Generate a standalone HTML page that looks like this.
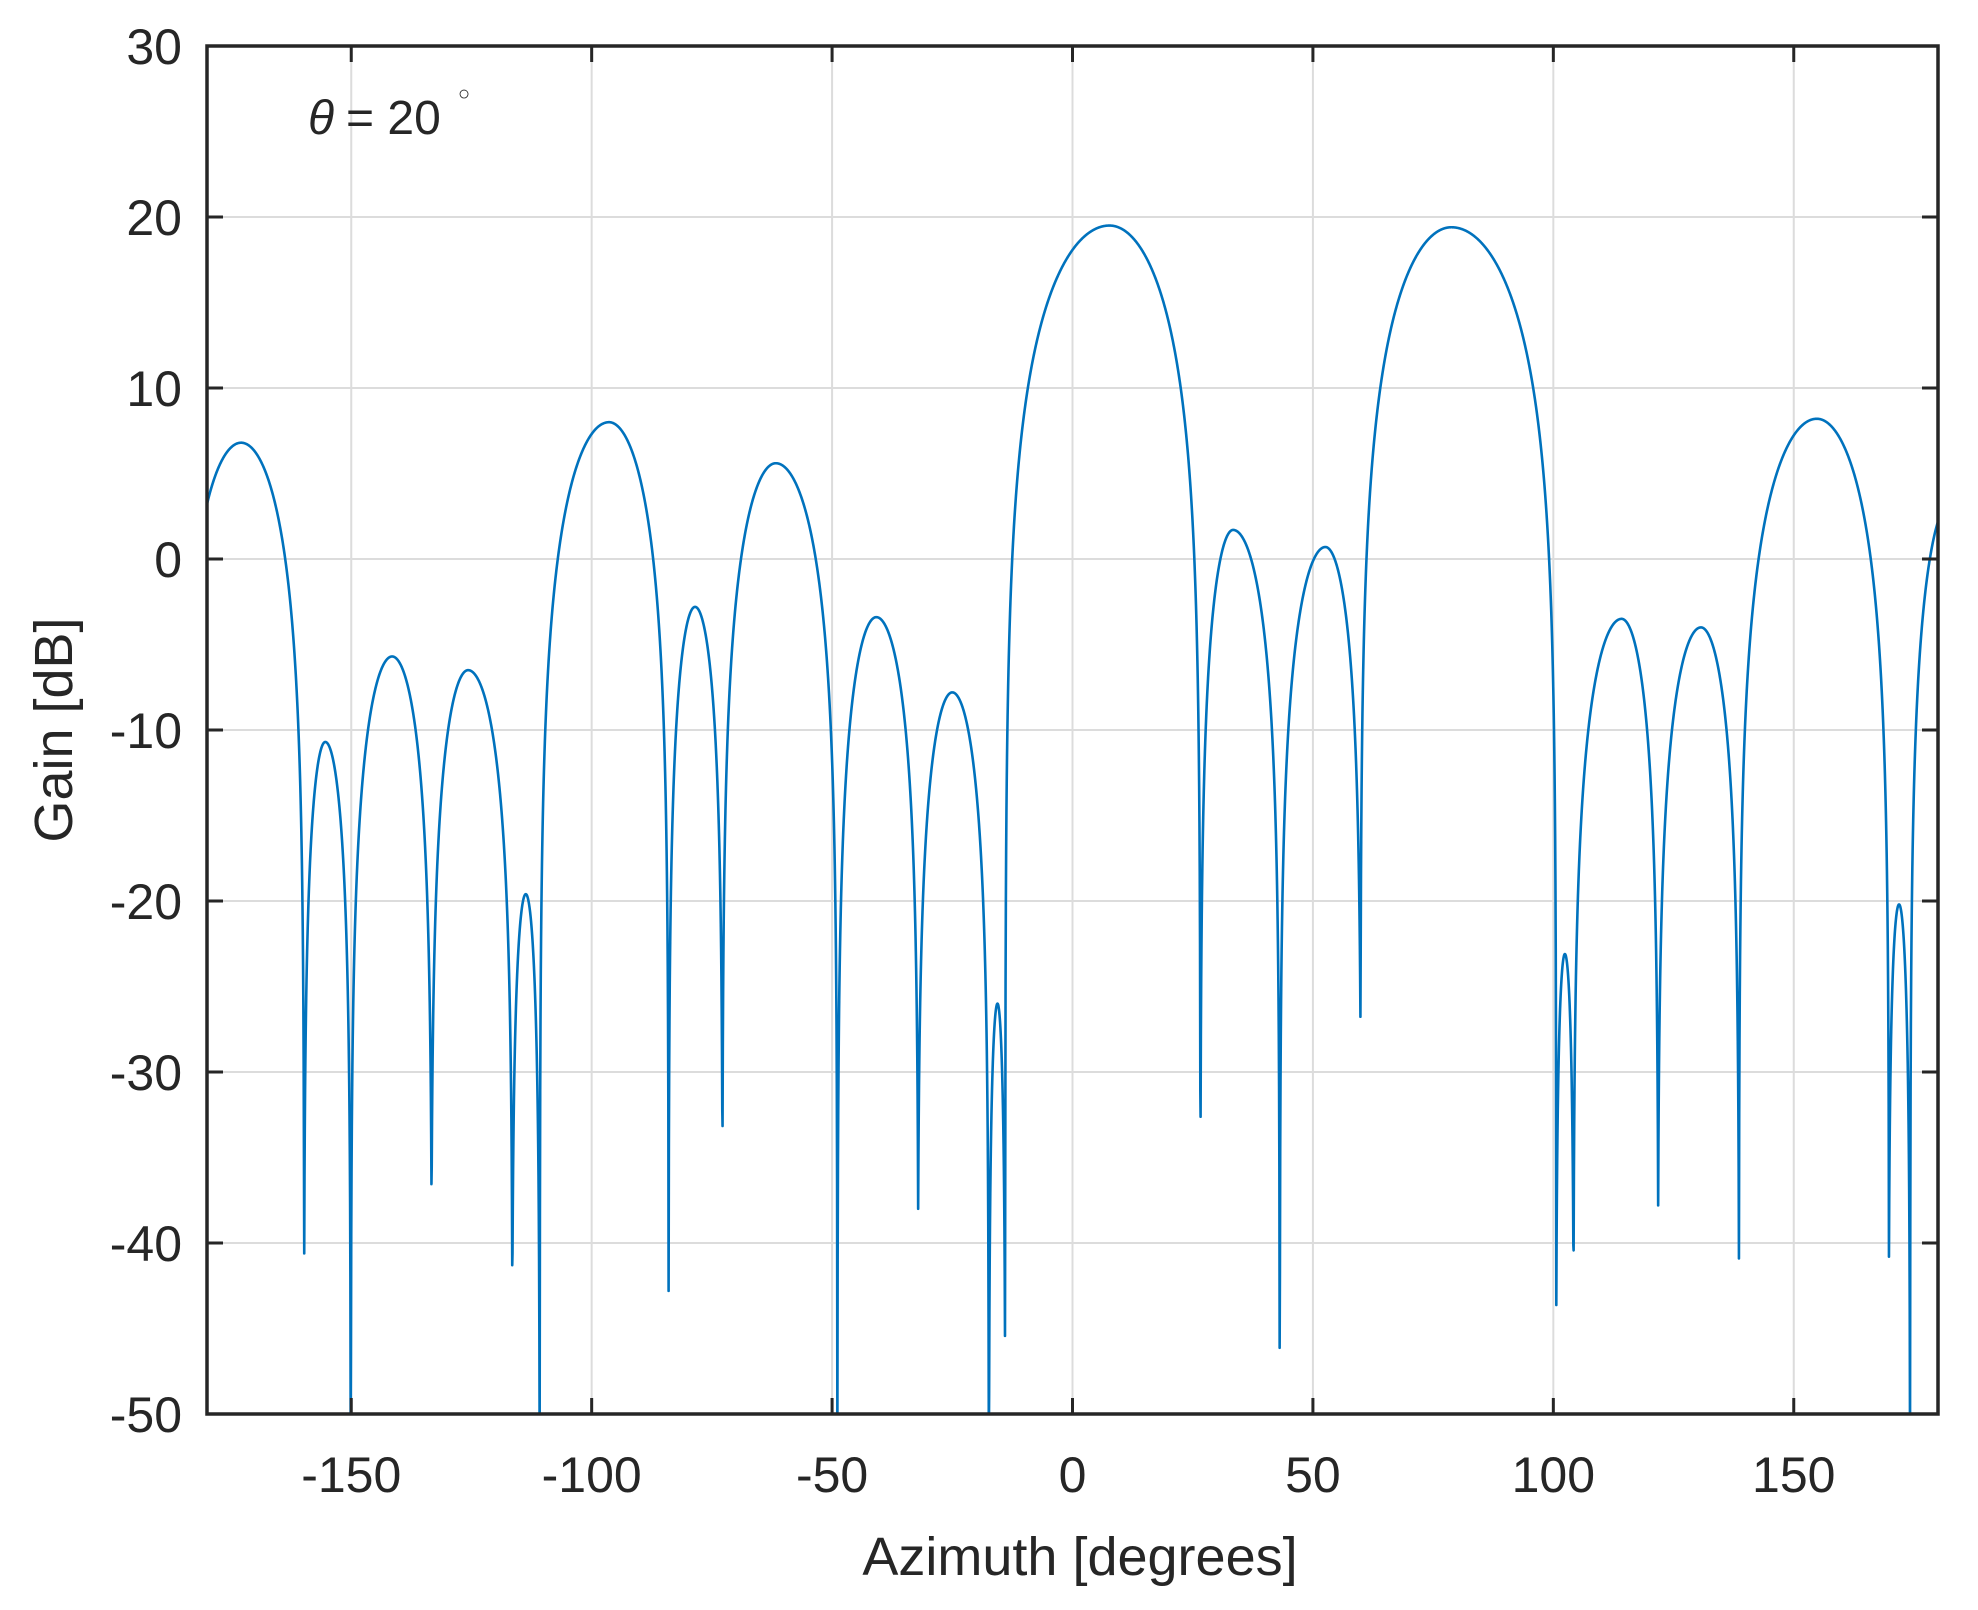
<!DOCTYPE html>
<html><head><meta charset="utf-8"><style>
html,body{margin:0;padding:0;background:#fff;}
svg{display:block;}
text{font-family:"Liberation Sans",Arial,sans-serif;fill:#262626;}
</style></head><body>
<svg id="s" width="1978" height="1610" viewBox="0 0 1978 1610" xmlns="http://www.w3.org/2000/svg">
<defs><clipPath id="c"><rect x="207" y="46" width="1731" height="1368"/></clipPath></defs>
<rect width="1978" height="1610" fill="#fff"/>
<g id="grid" stroke="#dcdcdc" stroke-width="2"></g>
<path id="curve" clip-path="url(#c)" fill="none" stroke="#0072BD" stroke-width="2.6" stroke-linejoin="round"/>
<g id="ticks" stroke="#262626" stroke-width="3"></g>
<rect x="207" y="46" width="1731" height="1368" fill="none" stroke="#262626" stroke-width="3.5"/>
<g id="labels" font-size="50"></g>
<text x="1080" y="1575" font-size="54" text-anchor="middle">Azimuth [degrees]</text>
<text transform="translate(72,730) rotate(-90)" font-size="54" text-anchor="middle">Gain [dB]</text>
<text x="308" y="134" font-size="48" font-style="italic" font-family="Liberation Serif">θ</text>
<text x="346" y="134" font-size="48">= 20</text>
<text x="458" y="100" font-size="20">○</text>
</svg>
<script>
var L=207,R=1938,T=46,B=1414;
function X(d){return L+(d+180)*(R-L)/360;}
function Y(v){return T+(30-v)*(B-T)/80;}
var ns="http://www.w3.org/2000/svg";
function el(p,t,a,txt){var e=document.createElementNS(ns,t);for(var k in a)e.setAttribute(k,a[k]);if(txt!=null)e.textContent=txt;document.getElementById(p).appendChild(e);}
for(var d=-150;d<=150;d+=50){el('grid','line',{x1:X(d),x2:X(d),y1:T,y2:B});
 el('ticks','line',{x1:X(d),x2:X(d),y1:B,y2:B-16});el('ticks','line',{x1:X(d),x2:X(d),y1:T,y2:T+16});
 el('labels','text',{x:X(d),y:1492,'text-anchor':'middle'},String(d));}
for(var v=-50;v<=30;v+=10){if(v>-50&&v<30)el('grid','line',{x1:L,x2:R,y1:Y(v),y2:Y(v)});
 el('ticks','line',{x1:L,x2:L+16,y1:Y(v),y2:Y(v)});el('ticks','line',{x1:R,x2:R-16,y1:Y(v),y2:Y(v)});
 el('labels','text',{x:182,y:Y(v)+18,'text-anchor':'end'},String(v));}
var N=[[-186,-40],[-159.8,-42.8],[-150.1,-60],[-133.3,-37.8],[-116.5,-43.1],[-110.8,-60],[-84.0,-42.8],[-72.8,-35.6],[-48.9,-60],[-32.1,-38],[-17.4,-60],[-14.0,-49.4],[26.6,-38.3],[43.1,-60],[59.9,-27.7],[100.6,-45.4],[104.2,-42.6],[121.8,-37.8],[138.6,-40.9],[169.8,-40.8],[174.2,-60],[192,-30]];
var P=[[-172.9,6.8],[-155.4,-10.7],[-141.5,-5.7],[-125.7,-6.5],[-113.7,-19.6],[-96.4,8.0],[-78.5,-2.8],[-61.7,5.6],[-40.8,-3.4],[-25.0,-7.8],[-15.6,-26],[7.7,19.5],[33.4,1.7],[52.6,0.7],[78.8,19.4],[102.4,-23.1],[114.2,-3.5],[130.7,-4.0],[154.8,8.2],[171.9,-20.2],[183,3.5]];
var pts=[];
for(var i=0;i<=6000;i++){var x=-180+360*i/6000;
 var k=0;while(k<N.length-2&&x>N[k+1][0])k++;
 var a=N[k][0],b=N[k+1][0],p=P[k][0],pv=P[k][1];
 var u=x<p?0.5*(x-a)/(p-a):0.5+0.5*(x-p)/(b-p);
 var amp=Math.pow(10,pv/20)*Math.abs(Math.sin(Math.PI*u));
 var eps=Math.pow(10,(u<0.5?N[k][1]:N[k+1][1])/20)*Math.pow(Math.cos(Math.PI*u),2);
 var g=20*Math.log10(amp+eps);
 pts.push(X(x).toFixed(2)+','+Math.min(Y(g),1440).toFixed(2));}
document.getElementById('curve').setAttribute('d','M'+pts.join('L'));
</script>
</body></html>
